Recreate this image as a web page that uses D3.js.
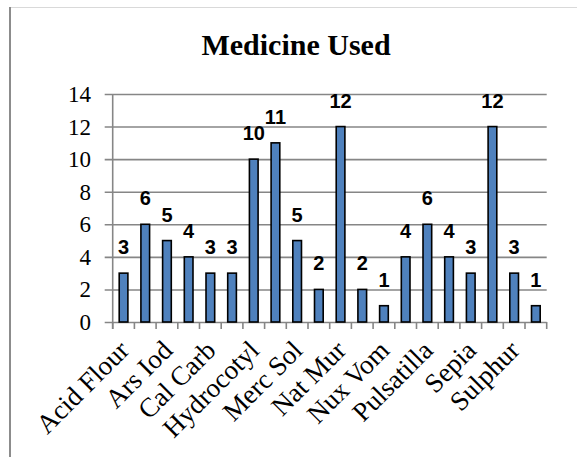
<!DOCTYPE html>
<html>
<head>
<meta charset="utf-8">
<script src="https://cdn.jsdelivr.net/npm/d3@7"></script>
<style>
  html, body { margin: 0; padding: 0; background: #fff; }
  svg { display: block; }
</style>
</head>
<body>
<svg id="chart" width="577" height="457"></svg>
<script>
// Remedies in alphabetical order; only every other name fits on the axis.
const medicines = [
  "Acid Flour", "Arnica", "Ars Iod", "Bryonia", "Cal Carb", "Graphites",
  "Hydrocotyl", "Lycopodium", "Merc Sol", "Mezereum", "Nat Mur", "Nit Acid",
  "Nux Vom", "Phosphorus", "Pulsatilla", "Rhus Tox", "Sepia", "Silicea",
  "Sulphur", "Thuja"
];
const timesUsed = [3, 6, 5, 4, 3, 3, 10, 11, 5, 2, 12, 2, 1, 4, 6, 4, 3, 12, 3, 1];
const yTicks = [0, 2, 4, 6, 8, 10, 12, 14];
const chartTitle = "Medicine Used";

const serif = "'Liberation Serif', 'Times New Roman', serif";
const svg = d3.select("#chart");
const plot = { left: 112.7, right: 546.7, top: 94, bottom: 322 };

const x = d3.scaleBand()
  .domain(medicines)
  .range([plot.left, plot.right])
  .paddingInner(0.6)
  .paddingOuter(0.3);

const y = d3.scaleLinear()
  .domain([0, 14])
  .range([plot.bottom, plot.top]);

// Outer chart frame
svg.append("line")
  .attr("x1", 10).attr("x2", 577).attr("y1", 7.5).attr("y2", 7.5)
  .attr("stroke", "#d9d9d9").attr("stroke-width", 1);
svg.append("line")
  .attr("x1", 10).attr("x2", 10).attr("y1", 7).attr("y2", 457)
  .attr("stroke", "#8c8c8c").attr("stroke-width", 2);

// Title
svg.append("text")
  .attr("x", 296).attr("y", 55)
  .attr("text-anchor", "middle")
  .attr("font-family", serif)
  .attr("font-weight", "bold")
  .attr("font-size", 30)
  .attr("fill", "#000")
  .text(chartTitle);

// Horizontal gridlines, extended left past the axis as tick marks
const yAxis = d3.axisLeft(y)
  .tickValues(yTicks)
  .tickSize(plot.right - plot.left + 8)
  .tickFormat("");

const gy = svg.append("g")
  .attr("transform", `translate(${plot.right},0)`)
  .call(yAxis);
gy.select(".domain").remove();
gy.selectAll(".tick line")
  .attr("stroke", "#868686").attr("stroke-width", 1.6);

// Value axis labels
svg.append("g")
  .selectAll("text")
  .data(yTicks)
  .join("text")
  .attr("x", 91)
  .attr("y", d => y(d))
  .attr("dy", "0.35em")
  .attr("text-anchor", "end")
  .style("font-family", serif)
  .style("font-size", "23px")
  .attr("fill", "#000")
  .text(d => d);

// Vertical axis line
svg.append("line")
  .attr("x1", plot.left).attr("x2", plot.left)
  .attr("y1", plot.top).attr("y2", plot.bottom + 7)
  .attr("stroke", "#868686").attr("stroke-width", 1.6);

// Bars
svg.append("g")
  .selectAll("rect")
  .data(medicines)
  .join("rect")
  .attr("x", d => x(d))
  .attr("y", (d, i) => y(timesUsed[i]))
  .attr("width", x.bandwidth())
  .attr("height", (d, i) => y(0) - y(timesUsed[i]))
  .attr("fill", "#4f81bd")
  .attr("stroke", "#000")
  .attr("stroke-width", 1.6);

// Category axis: tick marks at band boundaries
const boundaries = d3.range(medicines.length + 1)
  .map(i => plot.left + i * (plot.right - plot.left) / medicines.length);
svg.append("g")
  .selectAll("line")
  .data(boundaries)
  .join("line")
  .attr("x1", d => d).attr("x2", d => d)
  .attr("y1", plot.bottom).attr("y2", plot.bottom + 7)
  .attr("stroke", "#868686").attr("stroke-width", 1.6);

// Rotated category labels, every other one
svg.append("g")
  .selectAll("text")
  .data(medicines.filter((d, i) => i % 2 === 0))
  .join("text")
  .attr("transform", d => `translate(${x(d) + x.bandwidth() / 2 + 7},${plot.bottom + 30}) rotate(-45)`)
  .attr("text-anchor", "end")
  .style("font-family", serif)
  .style("font-size", "27px")
  .attr("fill", "#000")
  .text(d => d);

// Value labels above bars
svg.append("g")
  .selectAll("text")
  .data(medicines)
  .join("text")
  .attr("x", d => x(d) + x.bandwidth() / 2)
  .attr("y", (d, i) => y(timesUsed[i]) - 19)
  .attr("text-anchor", "middle")
  .style("font-family", "'Liberation Sans', Arial, sans-serif")
  .style("font-weight", "bold")
  .style("font-size", "20px")
  .attr("fill", "#000")
  .text((d, i) => timesUsed[i]);
</script>
</body>
</html>
